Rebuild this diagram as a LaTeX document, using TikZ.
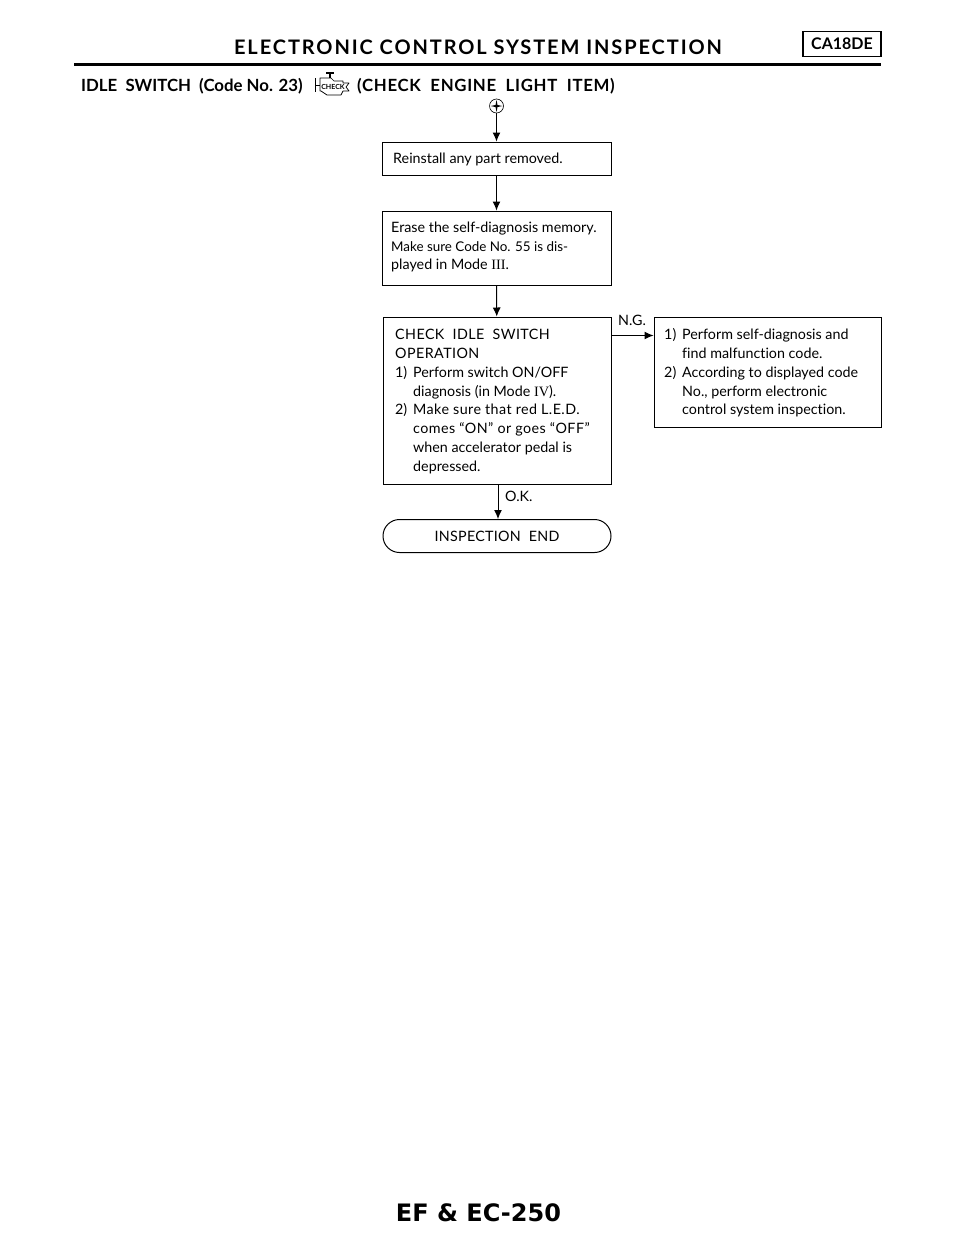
\documentclass[tikz,border=0pt]{standalone}
\usepackage{fontspec}
\setmainfont[Ligatures={TeX,NoCommon}]{Lato}
\newfontfamily\romanfont{Liberation Serif}
\newfontfamily\footfont{DejaVu Sans}
\usetikzlibrary{arrows.meta,shapes.misc}
\tikzset{
    stepbox/.style={draw, line width=1pt, inner sep=0pt},
    flowarrow/.style={-{Latex[length=9pt,width=8pt]}, line width=1pt},
    plain/.style={inner sep=0pt, anchor=base west},
    body/.style={plain, font=\fontsize{14.3}{14}\selectfont},
    spaced/.style={plain, font=\fontsize{14.3}{14}\selectfont\addfontfeature{LetterSpace=3}},
    tight/.style={plain, font=\fontsize{13.4}{14}\selectfont},
    heading/.style={plain, font=\bfseries\fontsize{16.8}{16}\selectfont}
}
\begin{document}
\begin{tikzpicture}[x=1pt, y=-1pt]
    \useasboundingbox (0,0) rectangle (960,1242);

    % Page header
    \node[inner sep=0pt, font=\bfseries\fontsize{20}{20}\selectfont\addfontfeature{LetterSpace=9.5}] (title) at (478,47) {ELECTRONIC CONTROL SYSTEM INSPECTION};
    \node[stepbox, line width=1.2pt, minimum width=78pt, minimum height=25pt, font=\bfseries\fontsize{16}{16}\selectfont] (badge) at (842,44) {CA18DE};
    \coordinate (ruleL) at (74,64.5);
    \coordinate (ruleR) at (881,64.5);
    \draw[line width=2.2pt] (ruleL) -- (ruleR);

    \node[heading] (idle) at (81,91) {IDLE\ \ SWITCH\ \ (Code No. 23)};
    \node[heading, font=\bfseries\fontsize{16.8}{16}\selectfont\addfontfeature{LetterSpace=4}] (item) at (357,91) {(CHECK\ \ ENGINE\ \ LIGHT\ \ ITEM)};

    % Check engine symbol
    \draw[line width=0.7pt, line join=round] (320,78) -- (331,78) -- (334,81) -- (343,81) -- (343,83) -- (349,83) -- (346,87)
        -- (349,91) -- (343,91) -- (341,95) -- (327,95) -- (321,91) -- (320,91) -- cycle;
    \draw[line width=0.7pt] (315,78) -- (315,92) (315,85) -- (320,85);
    \draw[line width=1.2pt] (326,73) -- (334,73) (330,73) -- (330,78);
    \node[inner sep=0pt, font=\bfseries\fontsize{7}{8}\selectfont] (engine) at (333,86.5) {CHECK};

    % Start symbol
    \node[draw, circle, line width=0.6pt, minimum size=14pt, inner sep=0pt] (start) at (496.5,106) {};
    \fill (start.center) ++(-6,0) -- ++(5,-1) -- ++(1,-5) -- ++(1,5) -- ++(5,1) -- ++(-5,1) -- ++(-1,5) -- ++(-1,-5) -- cycle;

    % Boxes
    \node[stepbox, minimum width=229pt, minimum height=33pt] (reinstall) at (496.5,158.5) {};
    \node[body] at (393,163) {Reinstall any part removed.};

    \node[stepbox, minimum width=229pt, minimum height=74pt] (erase) at (496.5,248) {};
    \node[body] at (391,232) {Erase the self-diagnosis memory.};
    \node[tight] at (391,251) {Make sure Code No. 55 is dis-};
    \node[body] at (391,269) {played in Mode {\romanfont III}.};

    \node[stepbox, minimum width=228pt, minimum height=167pt] (check) at (497,400.5) {};
    \node[spaced] at (395,339) {CHECK\ \ IDLE\ \ SWITCH};
    \node[spaced] at (395,358) {OPERATION};
    \node[body] at (395,377) {1)};
    \node[body] at (413,377) {Perform switch ON/OFF};
    \node[body] at (413,396) {diagnosis (in Mode {\romanfont IV}).};
    \node[body] at (395,414.5) {2)};
    \node[spaced] at (413,414.5) {Make sure that red L.E.D.};
    \node[spaced] at (413,433) {comes ``ON'' or goes ``OFF''};
    \node[body] at (413,452) {when accelerator pedal is};
    \node[body] at (413,471) {depressed.};

    \node[stepbox, minimum width=227pt, minimum height=110pt] (fix) at (767.5,372) {};
    \node[body] at (664,339) {1)};
    \node[body] at (682,339) {Perform self-diagnosis and};
    \node[body] at (682,358) {find malfunction code.};
    \node[body] at (664,377) {2)};
    \node[body] at (682,377) {According to displayed code};
    \node[body] at (682,396) {No., perform electronic};
    \node[body] at (682,414.5) {control system inspection.};

    \node[stepbox, rounded rectangle, minimum width=228pt, minimum height=33pt, font=\fontsize{14.3}{14}\selectfont\addfontfeature{LetterSpace=2}] (finish) at (497,536) {INSPECTION\ \ END};

    % Connectors
    \draw[flowarrow] (start) -- (reinstall);
    \draw[flowarrow] (reinstall) -- (erase);
    \draw[flowarrow] (erase) -- (check);
    \draw[flowarrow] ([yshift=-19pt]check.north east) -- ([yshift=-19pt]fix.north west);
    \draw[flowarrow] ([xshift=1pt]check.south) -- ([xshift=1pt]finish.north);

    \node[body] (ng) at (618,325) {N.G.};
    \node[body] (ok) at (505,501) {O.K.};

    % Page number
    \node[inner sep=0pt, font=\footfont\bfseries\fontsize{24}{24}\selectfont] (page) at (478.5,1213) {EF \& EC-250};
\end{tikzpicture}
\end{document}
